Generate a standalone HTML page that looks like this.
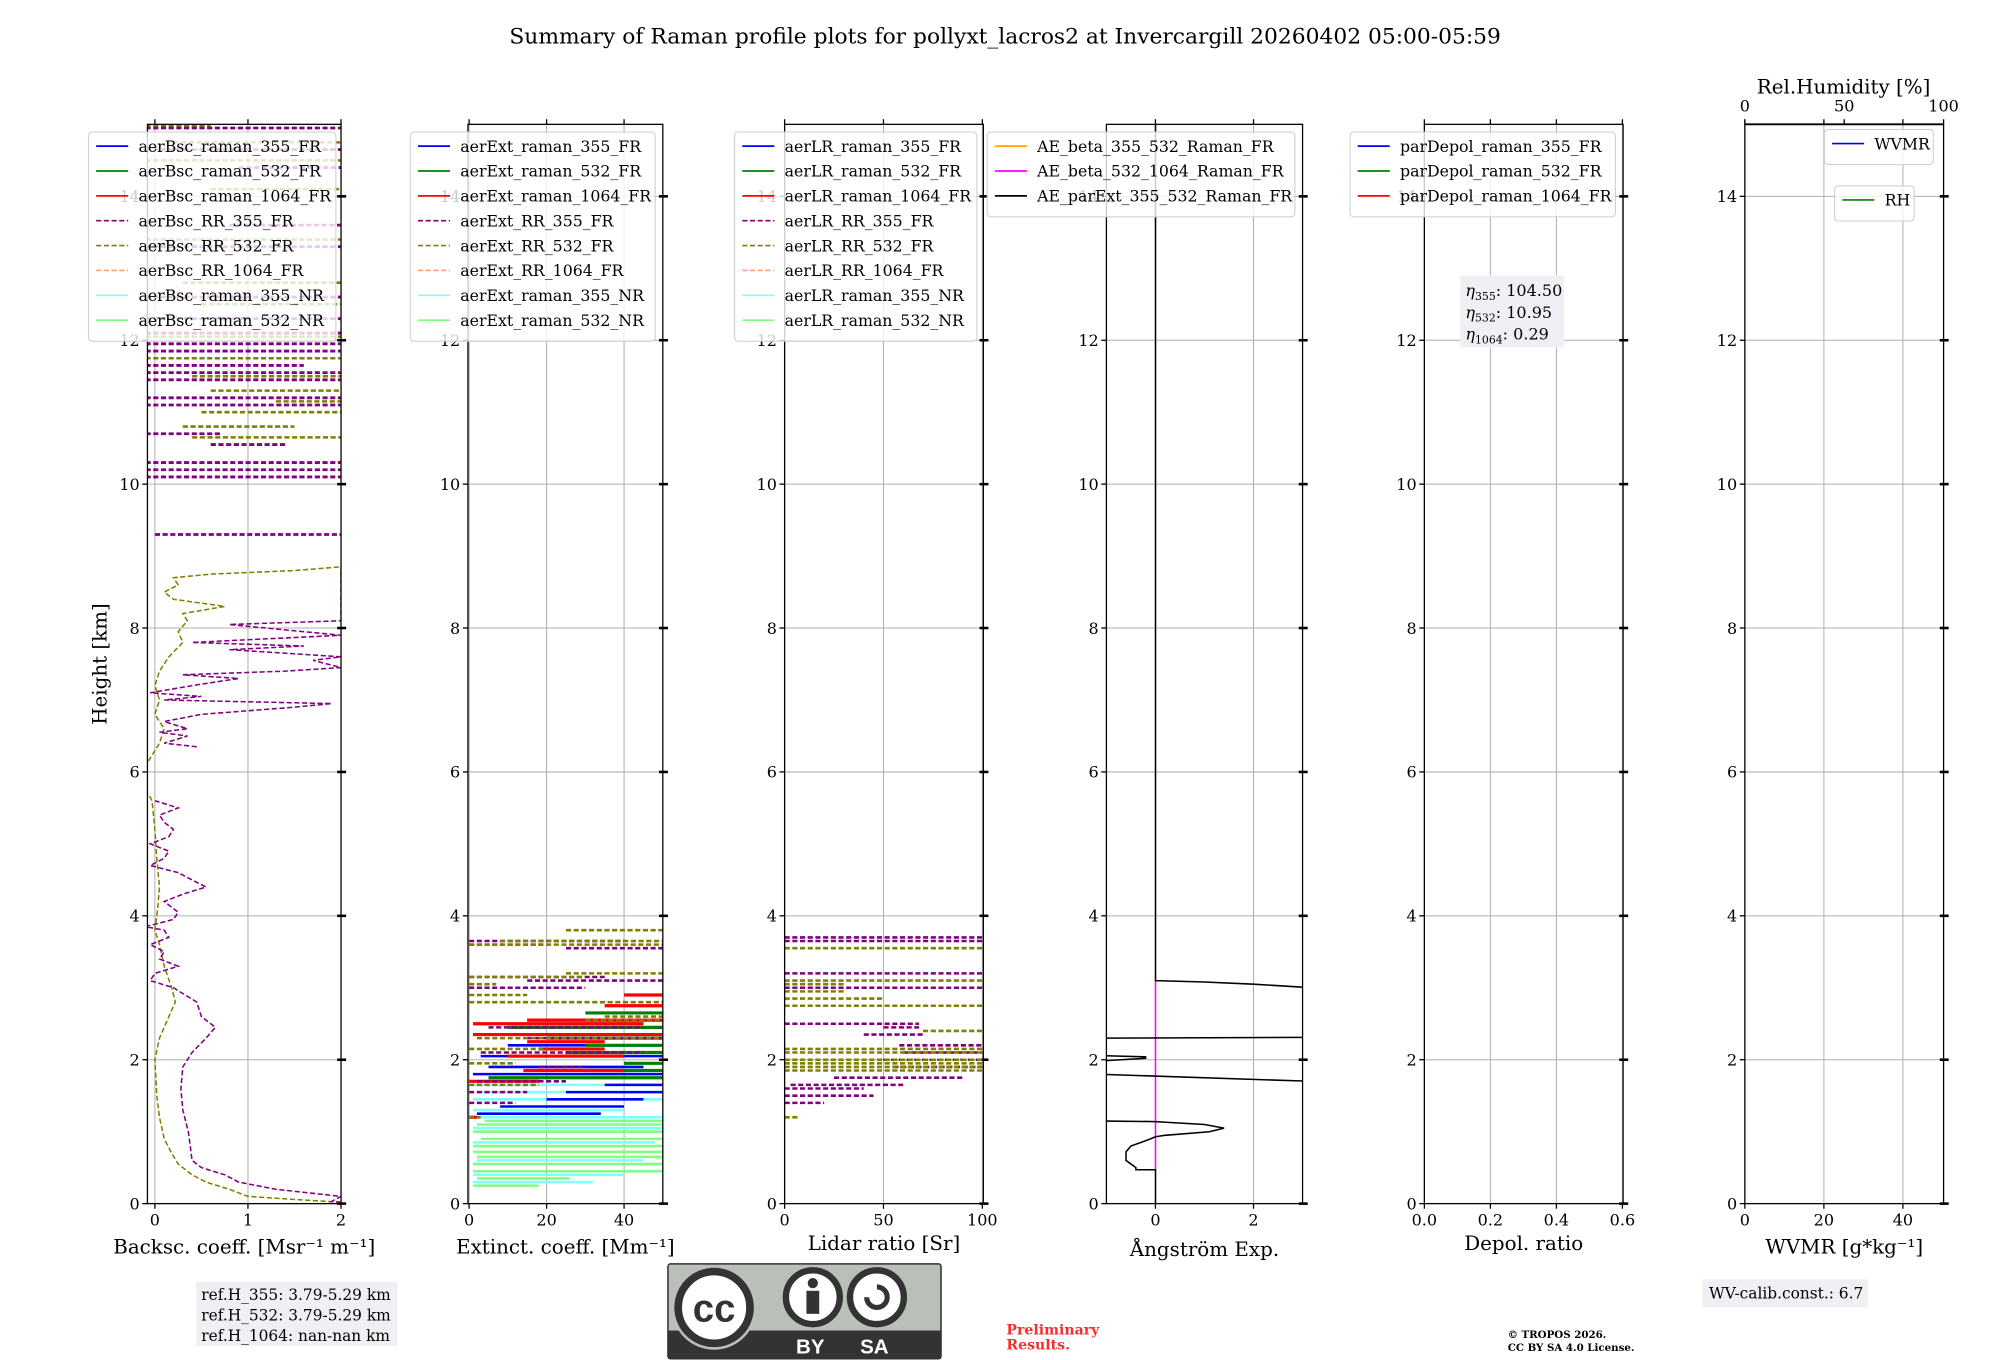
<!DOCTYPE html>
<html><head><meta charset="utf-8"><title>Raman profile summary</title>
<style>
html,body{margin:0;padding:0;background:#fff;}
svg{display:block;}
text{font-family:"DejaVu Serif","Liberation Serif",serif;}
</style></head>
<body>
<svg id="fig" width="2000" height="1360" viewBox="0 0 1560 1061" preserveAspectRatio="none" xmlns="http://www.w3.org/2000/svg">
<rect width="1560" height="1061" fill="#fff"/>
<text x="784" y="34" font-size="17" text-anchor="middle">Summary of Raman profile plots for pollyxt_lacros2 at Invercargill 20260402 05:00-05:59</text>
<g id="plots"></g>
<g id="annot">
<rect x="153" y="1000" width="157" height="50" fill="#eef0f4"/>
<text x="157" y="1014" font-size="12">ref.H_355: 3.79-5.29 km</text>
<text x="157" y="1030" font-size="12">ref.H_532: 3.79-5.29 km</text>
<text x="157" y="1046" font-size="12">ref.H_1064: nan-nan km</text>
<g>
<rect x="521" y="986" width="213" height="74" rx="2" fill="#bbbfba" stroke="#333" stroke-width="1.2"/>
<rect x="521" y="1038" width="213" height="22" fill="#333"/>
<circle cx="557" cy="1020" r="33" fill="#bbbfba"/>
<circle cx="557" cy="1020" r="28" fill="#fff" stroke="#333" stroke-width="6"/>
<text x="557" y="1031" font-size="30" font-weight="bold" text-anchor="middle" fill="#333" style="font-family:'Liberation Sans',sans-serif">cc</text>
<circle cx="634" cy="1012" r="21" fill="#fff" stroke="#333" stroke-width="5"/>
<circle cx="634" cy="1001" r="4" fill="#333"/><rect x="629" y="1007" width="10" height="18" fill="#333"/>
<circle cx="684" cy="1012" r="21" fill="#fff" stroke="#333" stroke-width="5"/>
<path d="M676 1012 a8 8 0 1 0 8 -8" fill="none" stroke="#333" stroke-width="4"/>
<text x="632" y="1056" font-size="16" font-weight="bold" fill="#fff" text-anchor="middle" style="font-family:'Liberation Sans',sans-serif">BY</text>
<text x="682" y="1056" font-size="16" font-weight="bold" fill="#fff" text-anchor="middle" style="font-family:'Liberation Sans',sans-serif">SA</text>
</g>
<text x="785" y="1041" font-size="11" font-weight="bold" fill="#f03030">Preliminary</text>
<text x="785" y="1053" font-size="11" font-weight="bold" fill="#f03030">Results.</text>
<text x="1176" y="1044" font-size="8" font-weight="bold">© TROPOS 2026.</text>
<text x="1176" y="1054" font-size="8" font-weight="bold">CC BY SA 4.0 License.</text>
<rect x="1328" y="998" width="129" height="22" fill="#eef0f4"/>
<text x="1333" y="1013" font-size="12">WV-calib.const.: 6.7</text>
</g>
</svg>
<script>
// ---------- data ----------
const yTicks=[0,2,4,6,8,10,12,14];
const p1Ticks=[0,1,2], p2Ticks=[0,20,40], p3Ticks=[0,50,100], p4Ticks=[0,2], p5Ticks=["0.0","0.2","0.4","0.6"], p6Ticks=[0,20,40], rhTicks=[0,50,100];
const bsc355H=[0.02,0.03,0.1,0.2,0.3,0.4,0.5,0.55,0.6,0.8,1.0,1.3,1.6,1.9,2.1,2.3,2.45,2.5,2.6,2.8,3.0,3.1,3.2,3.3,3.4,3.5,3.6,3.7,3.8,3.85,3.95,4.05,4.2,4.3,4.4,4.5,4.6,4.7,4.8,4.9,5.0,5.1,5.2,5.3,5.4,5.5,5.6];
const bsc355V=[2.0,1.9,2.0,1.3,0.9,0.75,0.5,0.45,0.4,0.38,0.36,0.3,0.28,0.3,0.4,0.55,0.65,0.6,0.5,0.45,0.2,-0.05,0.0,0.25,0.05,0.1,-0.05,0.15,0.1,-0.1,0.2,0.25,0.1,0.3,0.55,0.4,0.25,-0.05,0.1,0.15,-0.05,0.15,0.2,0.1,0.05,0.25,0.0];
const bsc355uH=[6.35,6.4,6.5,6.55,6.6,6.7,6.8,6.85,6.9,6.95,7.0,7.05,7.1,7.2,7.3,7.35,7.4,7.45,7.55,7.6,7.7,7.75,7.8,7.9,8.0,8.05,8.1,8.35,8.8,8.85];
const bsc355uV=[0.45,0.1,0.35,0.05,0.35,0.1,0.5,1.0,1.5,1.9,0.1,0.5,-0.05,0.4,0.9,0.3,1.4,2.0,1.7,2.0,0.8,1.6,0.4,2.0,1.2,0.8,2.0,2.0,2.0,2.0];
const bsc532H=[0.02,0.05,0.1,0.2,0.3,0.4,0.55,0.7,0.9,1.2,1.5,2.0,2.3,2.6,2.8,3.0,3.3,3.6,3.8,4.1,4.4,4.8,5.2,5.6,5.7];
const bsc532V=[2.0,1.6,1.0,0.8,0.55,0.4,0.25,0.18,0.1,0.05,0.02,0.0,0.05,0.15,0.22,0.18,0.1,0.05,0.0,0.03,0.05,0.02,0.0,-0.03,-0.07];
const bsc532uH=[6.15,6.4,6.6,6.8,7.0,7.2,7.4,7.6,7.8,7.95,8.1,8.2,8.3,8.4,8.5,8.6,8.7,8.75,8.8,8.85];
const bsc532uV=[-0.07,0.05,0.1,0.0,0.05,0.0,0.05,0.15,0.3,0.25,0.35,0.3,0.75,0.2,0.1,0.25,0.2,0.6,1.5,2.0];
const bsc355Seg=[[9.3,0,2],[10.1,-0.1,2],[10.2,-0.1,2],[10.3,-0.1,2],[10.55,0.6,1.4],[10.7,-0.1,0.7],[11.1,-0.1,2],[11.2,-0.1,2],[11.45,-0.1,2],[11.55,-0.1,2],[11.65,-0.1,1.6],[11.85,-0.1,2],[11.95,-0.1,2],[12.1,-0.1,2],[12.3,-0.1,2],[12.6,-0.1,2],[13.3,-0.1,2],[13.6,0.8,2],[14.4,0.9,2],[14.65,-0.1,2],[14.95,-0.1,2]];
const bsc532Seg=[[10.65,0.4,2],[10.8,0.3,1.5],[11.0,0.5,2],[11.15,1.3,2],[11.3,0.6,2],[11.5,0.4,2],[11.75,-0.1,2],[12.05,-0.1,2],[12.5,0.5,2],[12.8,0.3,2],[13.4,-0.1,2],[14.1,0.6,2],[14.5,-0.1,2],[14.75,0.2,2],[14.98,-0.1,0.6]];
const ext532nr=[[0.25,1,18],[0.35,2,26],[0.45,1,50],[0.55,1,50],[0.65,2,50],[0.72,1,50],[0.8,1,50],[0.9,3,50],[1.0,1,50],[1.1,2,50],[1.15,4,50]];
const ext355nr=[[0.3,1,32],[0.4,1,40],[0.6,2,45],[0.85,1,48],[1.05,1,50],[1.2,3,50],[1.3,1,40],[1.45,1,50],[1.55,2,50],[1.65,1,50]];
const ext355fr=[[1.25,2,34],[1.35,8,40],[1.45,20,45],[1.55,25,50],[1.65,35,50],[1.8,1,50],[1.9,5,45],[2.05,3,50],[2.2,10,50],[2.35,2,50],[2.45,15,50]];
const ext532fr=[[1.75,5,50],[1.85,30,50],[1.95,40,50],[2.1,25,50],[2.2,30,50],[2.3,20,50],[2.45,10,50],[2.55,15,50],[2.65,30,50]];
const ext1064fr=[[1.2,0,2],[1.7,0,18],[1.85,14,40],[2.05,10,40],[2.15,18,35],[2.25,15,35],[2.35,1,50],[2.5,1,45],[2.55,15,50],[2.75,35,50],[2.9,40,50]];
const extRR355=[[1.4,0,12],[1.55,0,15],[1.7,2,25],[1.9,18,30],[2.1,3,45],[2.3,15,50],[2.45,5,45],[3.0,0,30],[3.1,15,50],[3.15,0,35],[3.55,25,50],[3.6,0,20],[3.65,0,40]];
const extRR532=[[1.2,0,3],[1.65,0,18],[1.95,0,12],[2.15,0,20],[2.3,2,50],[2.55,30,50],[2.6,35,50],[2.8,0,50],[2.9,0,15],[3.05,0,7],[3.15,0,30],[3.2,25,50],[3.6,0,50],[3.65,8,50],[3.8,25,50]];
const lrRR355=[[1.4,0,20],[1.5,0,45],[1.6,0,40],[1.65,3,60],[1.75,25,90],[1.9,55,100],[2.0,50,100],[2.1,60,100],[2.2,58,100],[2.35,40,70],[2.45,50,68],[2.5,0,68],[3.0,0,100],[3.2,0,100],[3.65,0,100],[3.7,0,100]];
const lrRR532=[[1.2,0,7],[1.85,0,100],[1.9,0,100],[1.95,0,100],[2.0,0,100],[2.1,0,100],[2.15,0,100],[2.4,70,100],[2.75,0,100],[2.85,0,50],[2.95,0,30],[3.05,0,30],[3.1,0,100],[3.55,0,100]];
// Angstrom exponent parExt 355/532 (null = gap)
const aeH=[15,3.1,3.08,3.05,3.0,null,2.3,2.31,null,2.06,2.04,2.02,1.98,1.97,null,1.8,1.7,null,1.15,1.14,1.1,1.05,1.0,0.95,0.93,0.9,0.85,0.8,0.72,0.6,0.5,0.47,0.47,0.0];
const aeV=[0,0,1.0,2.0,3.2,null,-1.2,3.2,null,-1.2,-0.2,-0.2,-1.2,-1.2,null,-1.2,3.2,null,-1.2,0,1.0,1.4,1.1,0.2,0,-0.1,-0.3,-0.5,-0.6,-0.6,-0.4,-0.4,0,0];
const aeBeta532H=[0.47,3.1];
const aeBeta532V=[0,0];

// ---------- axes ----------
const NS='http://www.w3.org/2000/svg';
const root=document.getElementById('plots');
const Y0=939, KM=56.13;
function y(h){return Y0-KM*h;}
function mk(tag,attrs,parent){const e=document.createElementNS(NS,tag);for(const k in attrs)e.setAttribute(k,attrs[k]);(parent||root).appendChild(e);return e;}
function axis(l,r,xmin,xmax){return v=>l+(v-xmin)/(xmax-xmin)*(r-l);}
const panels=[
 {name:'backscatter',l:115,r:266,x:axis(115,266,-0.08,2),ticks:p1Ticks,lab:'Backsc. coeff. [Msr⁻¹ m⁻¹]',ly:978},
 {name:'extinction',l:365,r:517,x:axis(365,517,-0.3,50),ticks:p2Ticks,lab:'Extinct. coeff. [Mm⁻¹]',ly:978},
 {name:'lidar-ratio',l:612,r:767,x:axis(612,767,0,100.5),ticks:p3Ticks,lab:'Lidar ratio [Sr]',ly:975},
 {name:'angstrom',l:863,r:1016,x:axis(863,1016,-1,3),ticks:p4Ticks,lab:'Ångström Exp.',ly:980},
 {name:'depol',l:1111,r:1266,x:axis(1111,1266,0,0.602),ticks:p5Ticks,lab:'Depol. ratio',ly:975},
 {name:'wvmr',l:1361,r:1516,x:axis(1361,1516,0,50.3),ticks:p6Ticks,lab:'WVMR [g*kg⁻¹]',ly:978}
];
const TOP=97;
panels.forEach((p,i)=>{
 const g=mk('g',{});
 
 
 const cid='clip'+i;
 const cp=mk('clipPath',{id:cid},g);mk('rect',{x:p.l,y:TOP,width:p.r-p.l,height:Y0-TOP},cp);
 yTicks.forEach(t=>{const ln=mk('line',{x1:p.l,x2:p.r,y1:y(t),y2:y(t),stroke:'#b0b0b0','stroke-width':0.8},g);});
 p.ticks.forEach(t=>{const X=p.x(parseFloat(t));const ln=mk('line',{x1:X,x2:X,y1:TOP,y2:Y0,stroke:'#b0b0b0','stroke-width':0.8},g);
   mk('line',{x1:X,x2:X,y1:Y0,y2:Y0+4,stroke:'#000','stroke-width':1},g);
   mk('line',{x1:X,x2:X,y1:TOP-4,y2:TOP,stroke:'#000','stroke-width':1},g);
   const tx=mk('text',{x:X,y:Y0+17,'font-size':12.5,'text-anchor':'middle'},g);tx.textContent=t;
   });
 yTicks.forEach(t=>{
   mk('line',{x1:p.l-4,x2:p.l,y1:y(t),y2:y(t),stroke:'#000','stroke-width':1},g);
   mk('line',{x1:p.r-3,x2:p.r+4,y1:y(t),y2:y(t),stroke:'#000','stroke-width':2},g);
   const tx=mk('text',{x:p.l-6,y:y(t)+4.5,'font-size':12.5,'text-anchor':'end'},g);tx.textContent=t;
   });
 p.g=mk('g',{'clip-path':'url(#'+cid+')'},g);
 mk('rect',{x:p.l,y:TOP,width:p.r-p.l,height:Y0-TOP,fill:'none',stroke:'#000','stroke-width':1},g);
 const lb=mk('text',{x:(p.l+p.r)/2,y:p.ly,'font-size':15.5,'text-anchor':'middle'},g);lb.textContent=p.lab;
 
});
const yl=mk('text',{x:83,y:518,'font-size':15.5,'text-anchor':'middle',transform:'rotate(-90 83 518)'});yl.textContent='Height [km]';

const rhx=axis(1361,1516,0,100);
rhTicks.forEach(t=>{mk('line',{x1:rhx(t),x2:rhx(t),y1:TOP-4,y2:TOP,stroke:'#000'});const tx=mk('text',{x:rhx(t),y:TOP-10,'font-size':12.5,'text-anchor':'middle'});tx.textContent=t;
 });
mk('line',{x1:1361,x2:1516,y1:TOP,y2:TOP,stroke:'#000','stroke-width':1.5});
const rht=mk('text',{x:1438,y:73,'font-size':15.5,'text-anchor':'middle'});rht.textContent='Rel.Humidity [%]';


// ---------- series ----------
function profile(p,H,V,color,dash,name){
 let d='',pen=false;
 H.forEach((h,i)=>{
  if(h===null||V[i]===null){pen=false;return;}
  d+=(pen?'L':'M')+p.x(V[i]).toFixed(1)+' '+y(h).toFixed(1)+' ';pen=true;
 });
 const e=mk('path',{d:d,fill:'none',stroke:color,'stroke-width':1.2,'stroke-dasharray':dash||'none'},p.g);
 
 
}
function segs(p,S,color,dash,w,name){
 S.forEach(s=>{const e=mk('line',{x1:p.x(s[1]),x2:p.x(s[2]),y1:y(s[0]),y2:y(s[0]),stroke:color,'stroke-width':w,'stroke-dasharray':dash||'none'},p.g);
  
  });
}
const P=panels;
profile(P[0],bsc532H,bsc532V,'#808000','4 2','bsc-rr-532-line');
profile(P[0],bsc532uH,bsc532uV,'#808000','4 2','bsc-rr-532-line-upper');
profile(P[0],bsc355H,bsc355V,'#800080','4 2','bsc-rr-355-line');
profile(P[0],bsc355uH,bsc355uV,'#800080','4 2','bsc-rr-355-line-upper');
segs(P[0],bsc532Seg,'#808000','4 2',2,'bsc-rr-532-segment');
segs(P[0],bsc355Seg,'#800080','4 2',2.2,'bsc-rr-355-segment');
segs(P[1],ext532nr,'#80ff80','',2,'ext-raman-532-nr');
segs(P[1],ext355nr,'#80ffff','',2,'ext-raman-355-nr');
segs(P[1],ext355fr,'#0000ff','',2,'ext-raman-355-fr');
segs(P[1],ext532fr,'#008000','',2.5,'ext-raman-532-fr');
segs(P[1],ext1064fr,'#ff0000','',2.5,'ext-raman-1064-fr');
segs(P[1],extRR355,'#800080','4 2',2,'ext-rr-355');
segs(P[1],extRR532,'#808000','4 2',2,'ext-rr-532');
segs(P[2],lrRR355,'#800080','4 2',2,'lr-rr-355');
segs(P[2],lrRR532,'#808000','4 2',2,'lr-rr-532');
profile(P[3],aeBeta532H,aeBeta532V,'#ff00ff','','ae-beta-532-1064');
profile(P[3],aeH,aeV,'#000000','','ae-parext-355-532');

// ---------- legends ----------
function legend(x,yTop,w,entries,name){
 const g=mk('g',{});
 
 
 mk('rect',{x:x,y:yTop,width:w,height:entries.length*19.4+8,rx:3,fill:'#fff','fill-opacity':0.8,stroke:'#ccc','stroke-width':0.8},g);
 entries.forEach((en,i)=>{const yy=yTop+11+i*19.4;
  const ln=mk('line',{x1:x+6,x2:x+31,y1:yy,y2:yy,stroke:en[1],'stroke-width':1.3,'stroke-dasharray':en[2]?'4 2':'none'},g);
  
  const t=mk('text',{x:x+39,y:yy+4.5,'font-size':12.3},g);t.textContent=en[0];
  });
}
const cols=[['#0000ff',0],['#008000',0],['#ff0000',0],['#800080',1],['#808000',1],['#ffa07a',1],['#80ffff',0],['#80ff80',0]];
const suf=['raman_355_FR','raman_532_FR','raman_1064_FR','RR_355_FR','RR_532_FR','RR_1064_FR','raman_355_NR','raman_532_NR'];
legend(69,103,193,suf.map((s,i)=>['aerBsc_'+s,cols[i][0],cols[i][1]]),'backscatter-legend');
legend(320,103,191,suf.map((s,i)=>['aerExt_'+s,cols[i][0],cols[i][1]]),'extinction-legend');
legend(573,103,189,suf.map((s,i)=>['aerLR_'+s,cols[i][0],cols[i][1]]),'lidar-ratio-legend');
legend(770,103,240,[['AE_beta_355_532_Raman_FR','#ffa500',0],['AE_beta_532_1064_Raman_FR','#ff00ff',0],['AE_parExt_355_532_Raman_FR','#000000',0]],'angstrom-legend');
legend(1053,103,207,[['parDepol_raman_355_FR','#0000ff',0],['parDepol_raman_532_FR','#008000',0],['parDepol_raman_1064_FR','#ff0000',0]],'depol-legend');
legend(1423,101,85,[['WVMR','#0000ff',0]],'wvmr-legend');
legend(1431,145,62,[['RH','#008000',0]],'rh-legend');
const eg=mk('g',{});


mk('rect',{x:1139,y:215,width:81,height:56,fill:'#eef0f4'},eg);
[['355','104.50',231],['532','10.95',248],['1064','0.29',265]].forEach(r=>{
 const t=mk('text',{x:1143,y:r[2],'font-size':12.5},eg);
 t.innerHTML='<tspan font-style="italic">η</tspan><tspan font-size="8.5" dy="3">'+r[0]+'</tspan><tspan dy="-3">: '+r[1]+'</tspan>';
 
});
</script>
</body></html>
